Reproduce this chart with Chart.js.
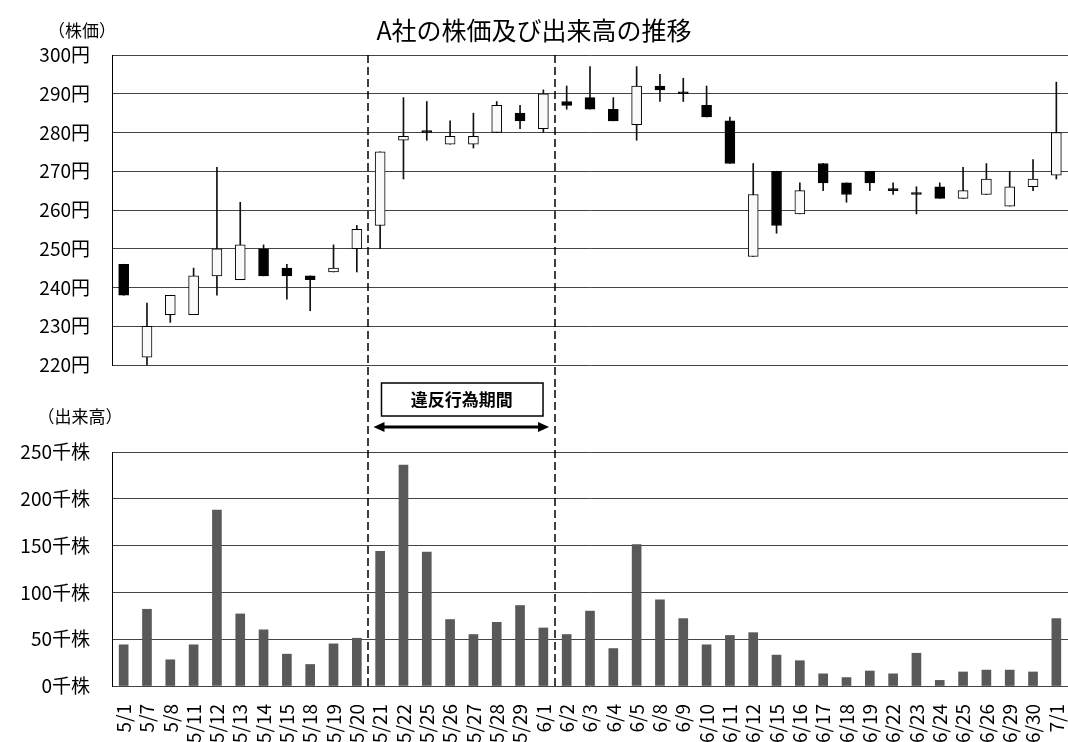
<!DOCTYPE html>
<html>
<head>
<meta charset="utf-8">
<script src="https://cdn.jsdelivr.net/npm/chart.js@4.4.1/dist/chart.umd.min.js"></script>
<style>
body { margin: 0; background: #fff; overflow: hidden; }
canvas { position: absolute; left: 0; }
</style>
</head>
<body>
<canvas id="cv-price" width="1068" height="390" style="top:0"></canvas>
<canvas id="cv-volume" width="1068" height="372" style="top:370px"></canvas>
<script>
// 日付ラベル
const labels = ['5/1','5/7','5/8','5/11','5/12','5/13','5/14','5/15','5/18','5/19','5/20',
    '5/21','5/22','5/25','5/26','5/27','5/28','5/29','6/1',
    '6/2','6/3','6/4','6/5','6/8','6/9','6/10','6/11','6/12','6/15','6/16','6/17','6/18','6/19',
    '6/22','6/23','6/24','6/25','6/26','6/29','6/30','7/1'];

// 株価（円）
const opens  = [246,222,233,233,243,242,250,245,243,244,250,
    256,278,280,277,277,280,285,281,
    288,289,286,282,292,290,287,283,248,270,259,272,267,270,265,264,266,263,264,261,266,269];
const highs  = [246,236,238,245,271,262,251,246,243,251,256,
    275,289,288,283,285,288,287,291,
    292,297,289,297,295,294,292,284,272,270,267,272,267,270,267,266,267,271,272,270,273,293];
const lows   = [238,220,231,233,238,242,243,237,234,244,244,
    250,268,278,277,276,280,281,280,
    286,286,283,278,288,288,284,272,248,254,259,265,262,265,264,259,263,263,264,261,265,268];
const closes = [238,230,238,243,250,251,243,243,242,245,255,
    275,279,280,279,279,287,283,290,
    287,286,283,292,291,290,284,272,264,256,265,267,264,267,265,264,263,265,268,266,268,280];

// 出来高（千株）
const volumes = [44,82,28,44,188,77,60,34,23,45,51,
    144,236,143,71,55,68,86,62,
    55,80,40,151,92,72,44,54,57,33,27,13,9,16,13,35,6,15,17,17,15,72];

// 違反行為期間
const periodFirst = '5/21';
const periodNext = '6/2';

const FONT = '"Noto Sans CJK JP", "Noto Sans", sans-serif';
const periodStart = labels.indexOf(periodFirst) - 0.5;
const periodEnd = labels.indexOf(periodNext) - 0.5;

function drawDashed(chart, yFrom, yTo) {
    const { ctx, scales: { x } } = chart;
    ctx.save();
    ctx.strokeStyle = '#000';
    ctx.lineWidth = 1.5;
    ctx.setLineDash([8, 4]);
    [periodStart, periodEnd].forEach(v => {
        const px = Math.round(x.getPixelForValue(v));
        ctx.beginPath();
        ctx.moveTo(px, yFrom);
        ctx.lineTo(px, yTo);
        ctx.stroke();
    });
    ctx.restore();
}

// 目盛りラベルのはみ出し分の余白を付けない
function noPadding(s) {
    s.paddingLeft = 0;
    s.paddingRight = 0;
    s.paddingTop = 0;
    s.paddingBottom = 0;
}

const pricePlugin = {
    id: 'priceExtras',
    afterDatasetsDraw(chart) {
        drawDashed(chart, chart.chartArea.top, chart.height);
        const ctx = chart.ctx;
        ctx.save();
        ctx.fillStyle = '#000';
        ctx.font = '17px ' + FONT;
        ctx.textAlign = 'center';
        ctx.textBaseline = 'middle';
        ctx.fillText('（株価）', 82, 31);
        ctx.restore();
    }
};

const volumePlugin = {
    id: 'volumeExtras',
    afterDatasetsDraw(chart) {
        const { ctx, scales: { x } } = chart;
        drawDashed(chart, 20, chart.chartArea.bottom + 4);
        const x1 = x.getPixelForValue(periodStart);
        const x2 = x.getPixelForValue(periodEnd);
        ctx.save();
        ctx.fillStyle = '#000';
        ctx.font = '17px ' + FONT;
        ctx.textAlign = 'center';
        ctx.textBaseline = 'middle';
        ctx.fillText('（出来高）', 80, 47);

        // 期間ラベルの枠
        ctx.fillStyle = '#fff';
        ctx.fillRect(x1 + 13, 13, x2 - x1 - 25, 33);
        ctx.strokeStyle = '#000';
        ctx.lineWidth = 1.5;
        ctx.strokeRect(x1 + 13, 13, x2 - x1 - 25, 33);
        ctx.fillStyle = '#000';
        ctx.font = 'bold 17px ' + FONT;
        ctx.fillText('違反行為期間', (x1 + x2) / 2, 30);

        // 両矢印
        const ay = 57, a1 = x1 + 5, a2 = x2 - 6;
        ctx.lineWidth = 3;
        ctx.beginPath();
        ctx.moveTo(a1 + 8, ay);
        ctx.lineTo(a2 - 8, ay);
        ctx.stroke();
        ctx.beginPath();
        ctx.moveTo(a1, ay); ctx.lineTo(a1 + 11, ay - 5); ctx.lineTo(a1 + 11, ay + 5); ctx.closePath();
        ctx.moveTo(a2, ay); ctx.lineTo(a2 - 11, ay - 5); ctx.lineTo(a2 - 11, ay + 5); ctx.closePath();
        ctx.fill();
        ctx.restore();
    }
};

const priceChart = new Chart(document.getElementById('cv-price'), {
    type: 'bar',
    data: {
        labels: labels,
        datasets: [{
            // 実体
            data: labels.map((_, i) => [opens[i], closes[i]]),
            backgroundColor: labels.map((_, i) => closes[i] > opens[i] ? '#fafafa' : '#000'),
            borderColor: '#000',
            borderWidth: 1,
            borderSkipped: false,
            barThickness: 10,
            minBarLength: 2,
            grouped: false,
            order: 1
        }, {
            // ヒゲ
            data: labels.map((_, i) => [lows[i], highs[i]]),
            backgroundColor: '#111',
            barThickness: 1,
            grouped: false,
            order: 2
        }]
    },
    options: {
        responsive: false,
        animation: false,
        layout: { padding: { top: 0, right: 0, bottom: 25, left: 0 } },
        plugins: {
            legend: { display: false },
            tooltip: { enabled: false },
            title: {
                display: true,
                text: 'A社の株価及び出来高の推移',
                color: '#000',
                font: { family: FONT, size: 25, weight: 'normal' },
                padding: { top: 15, bottom: 10 }
            }
        },
        scales: {
            x: { display: false, afterFit: noPadding },
            y: {
                min: 220,
                max: 300,
                afterFit: s => { s.width = 112; noPadding(s); },
                ticks: {
                    stepSize: 10,
                    padding: 22,
                    color: '#000',
                    font: { family: FONT, size: 19 },
                    callback: v => v + '円'
                },
                grid: { color: '#444', drawTicks: false },
                border: { display: true, color: '#000' }
            }
        }
    },
    plugins: [pricePlugin]
});

const volumeChart = new Chart(document.getElementById('cv-volume'), {
    type: 'bar',
    data: {
        labels: labels,
        datasets: [{
            data: volumes,
            backgroundColor: '#595959',
            barThickness: 9
        }]
    },
    options: {
        responsive: false,
        animation: false,
        layout: { padding: { top: 82, right: 0, bottom: 0, left: 0 } },
        plugins: {
            legend: { display: false },
            tooltip: { enabled: false }
        },
        scales: {
            x: {
                afterFit: s => { s.height = 56; noPadding(s); },
                grid: { display: false },
                border: { display: false },
                ticks: {
                    autoSkip: false,
                    minRotation: 90,
                    maxRotation: 90,
                    padding: 10,
                    color: '#000',
                    font: { family: FONT, size: 19 }
                }
            },
            y: {
                min: 0,
                max: 250,
                afterFit: s => { s.width = 112; noPadding(s); },
                ticks: {
                    stepSize: 50,
                    padding: 22,
                    color: '#000',
                    font: { family: FONT, size: 19 },
                    callback: v => v + '千株'
                },
                grid: { color: '#444', drawTicks: false },
                border: { display: true, color: '#000' }
            }
        }
    },
    plugins: [volumePlugin]
});
</script>
</body>
</html>
